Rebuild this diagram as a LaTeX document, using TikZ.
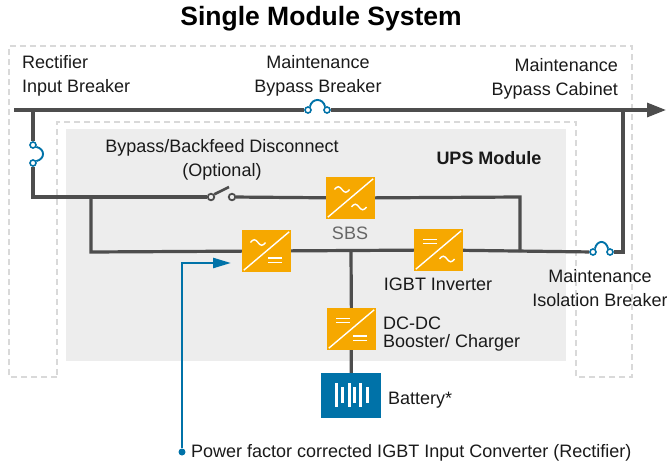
\documentclass[tikz,border=0pt]{standalone}
\usepackage{fontspec}
\setmainfont{Liberation Sans}
\usetikzlibrary{arrows.meta}

\definecolor{wiregray}{HTML}{4D4D4D}
\definecolor{convorange}{HTML}{F6A800}
\definecolor{ublue}{HTML}{0072A8}
\definecolor{modfill}{HTML}{EDEDED}
\definecolor{dashgray}{HTML}{D9D9D9}
\definecolor{txtblack}{HTML}{1A1A1A}
\definecolor{sbsgray}{HTML}{666666}

\tikzset{
  wire/.style={wiregray, line width=3.2},
  conv/.style={fill=convorange, minimum width=49, minimum height=42, inner sep=0},
  sym/.style={white, line width=1.4},
  brk/.style={circle, draw=ublue, fill=white, line width=1.6, minimum size=6, inner sep=0},
  swc/.style={circle, draw=wiregray, fill=modfill, line width=1.8, minimum size=6.5, inner sep=0},
  barc/.style={ublue, line width=1.9},
  lbl/.style={font=\fontsize{18}{24}\selectfont, text=txtblack, inner sep=0},
  cab/.style={dashgray, line width=2, dash pattern=on 6 off 4},
}

% converter symbols: ac wave and dc bars
\newcommand{\symac}[2]{\draw[sym] (#1-7.5,#2) sin ++(3.75,-2.8) cos ++(3.75,2.8) sin ++(3.75,2.8) cos ++(3.75,-2.8);}
\newcommand{\symdc}[2]{\draw[sym] (#1-7,#2-2.2) -- ++(14,0) (#1-7,#2+2.2) -- ++(14,0);}
\newcommand{\conv}[3]{%
  \draw[sym] ([shift={(2,-2)}]#1.south west) -- ([shift={(-2,2)}]#1.north east);
  \begin{scope}[shift={(#1.center)}]
    #2{-8.5}{-8.5} #3{8.5}{9}
  \end{scope}}

\begin{document}
\begin{tikzpicture}[x=1pt, y=-1pt]
    \useasboundingbox (0,0) rectangle (667,466);

    % UPS module area and cabinet outline
    \fill[modfill] (66,129) rectangle (566,361);
    \draw[cab] (57,377) -- (9,377) -- (9,46) -- (632,46) -- (632,377) -- (576,377) -- (576,122) -- (57,122) -- cycle;

    % Title
    \node[font=\fontsize{26.5}{30}\selectfont\bfseries, text=black] (title) at (321,19) {Single Module System};

    % Breakers and switch terminals
    \node[brk] (mb1) at (308,110) {};
    \node[brk] (mb2) at (327,110) {};
    \node[brk] (rb1) at (33,145) {};
    \node[brk] (rb2) at (33,163) {};
    \node[brk] (ib1) at (593,252) {};
    \node[brk] (ib2) at (610,252) {};
    \node[swc] (sw1) at (211,197) {};
    \node[swc] (sw2) at (232,197) {};

    % Converters and battery
    \node[conv] (sbs) at (350.5,198) {};
    \node[conv] (rect) at (266.5,251) {};
    \node[conv] (inv) at (438.5,250) {};
    \node[conv] (dcdc) at (351.5,329) {};
    \node[fill=ublue, minimum width=60, minimum height=45, inner sep=0] (bat) at (351,395.5) {};

    % Wire junctions
    \coordinate (in) at (14,110);
    \coordinate (out) at (666,110);
    \coordinate (j1) at (33,110);
    \coordinate (c1) at (33,197);
    \coordinate (j3) at (91,197);
    \coordinate (c3) at (91,252);
    \coordinate (j4) at (351,252);
    \coordinate (c2) at (520,197);
    \coordinate (j5) at (520,252);
    \coordinate (c4) at (623,252);
    \coordinate (j6) at (623,110);
    \coordinate (swtip) at (229,187);

    % Main bypass line
    \draw[wire] (in) -- (mb1);
    \draw[wire, -{Triangle[length=19,width=14]}] (mb2) -- (out);
    \draw[wire] (j1) -- (rb1);
    \draw[wire] (rb2) -- (c1) -- (sw1);
    \draw[wire] (sw2) -- (sbs);
    \draw[wire] (sbs) -- (c2) -- (j5);
    \draw[wire, line width=2.6] (sw1.40) -- (swtip);

    % Double conversion path
    \draw[wire] (j3) -- (c3) -- (rect);
    \draw[wire] (rect) -- (inv);
    \draw[wire] (inv) -- (ib1);
    \draw[wire] (ib2) -- (c4) -- (j6);
    \draw[wire] (j4) -- (dcdc);
    \draw[wire] (dcdc) -- (bat);

    % Breaker arcs
    \draw[barc] (mb1.60) .. controls +(2,-9) and +(-2,-9) .. (mb2.120);
    \draw[barc] (rb1.-30) .. controls +(9,2) and +(9,-2) .. (rb2.30);
    \draw[barc] (ib1.60) .. controls +(2,-9) and +(-2,-9) .. (ib2.120);

    % Converter symbols
    \conv{sbs}{\symac}{\symac}
    \conv{rect}{\symac}{\symdc}
    \conv{inv}{\symdc}{\symac}
    \conv{dcdc}{\symdc}{\symdc}

    % Battery cells
    \foreach \bx/\bh in {336/12, 342/8, 349/12, 354/8, 360/12, 367/8}
        \fill[white] (\bx-1.5,395-\bh) rectangle (\bx+1.5,395+\bh);

    % PFC pointer
    \node[circle, fill=ublue, minimum size=7, inner sep=0] (pfcdot) at (182,452) {};
    \coordinate (pfcbend) at (182,263);
    \coordinate (pfctip) at (231,263);
    \draw[ublue, line width=2.5, -{Triangle[length=18,width=10]}] (pfcdot) -- (pfcbend) -- (pfctip);

    % Labels
    \node[lbl, align=left, anchor=west] (lblrib) at (22,76) {Rectifier\\Input Breaker};
    \node[lbl, align=center] (lblmbb) at (318,76) {Maintenance\\Bypass Breaker};
    \node[lbl, align=right, anchor=east] (lblcab) at (618,79) {Maintenance\\Bypass Cabinet};
    \node[lbl, align=center] (lblbf) at (222,160) {Bypass/Backfeed Disconnect\\(Optional)};
    \node[lbl, font=\fontsize{18}{24}\selectfont\bfseries] (lblups) at (489,158) {UPS Module};
    \node[lbl, text=sbsgray] (lblsbs) at (350,233) {SBS};
    \node[lbl] (lblinv) at (438,284) {IGBT Inverter};
    \node[lbl, align=center] (lblmib) at (600,288) {Maintenance\\Isolation Breaker};
    \node[lbl, align=left, anchor=west, font=\fontsize{18}{18}\selectfont] (lbldcdc) at (383,334) {DC-DC\\Booster/ Charger};
    \node[lbl, anchor=west] (lblbat) at (388,400) {Battery*};
    \node[lbl, anchor=west] (pfclbl) at (191,453) {Power factor corrected IGBT Input Converter (Rectifier)};
\end{tikzpicture}
\end{document}
